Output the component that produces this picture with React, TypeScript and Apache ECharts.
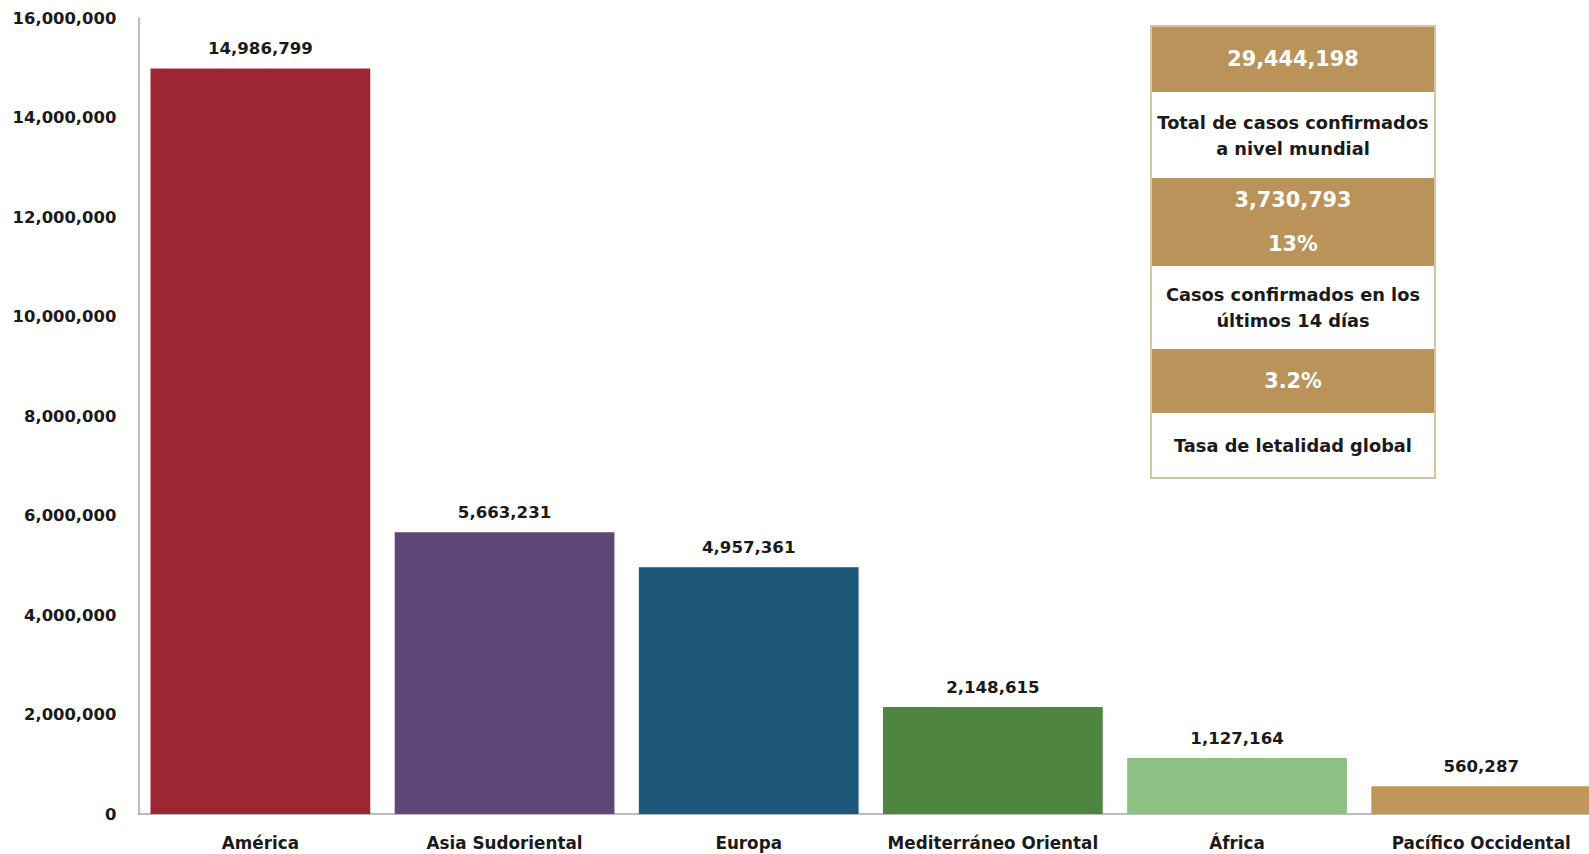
import React, { useEffect, useRef } from "react";
import * as echarts from "echarts";

const categories = ["América", "Asia Sudoriental", "Europa", "Mediterráneo Oriental", "África", "Pacífico Occidental"];
const values = [14986799, 5663231, 4957361, 2148615, 1127164, 560287];
const barColors = ["#9E2633", "#5F4777", "#1D577A", "#4E8541", "#8DC083", "#C0965A"];
const yMax = 16000000;
const yInterval = 2000000;

const boxBands = [
  { kind: "brown", lines: ["29,444,198"] },
  { kind: "white", lines: ["Total de casos confirmados", "a nivel mundial"] },
  { kind: "brown", lines: ["3,730,793", "13%"] },
  { kind: "white", lines: ["Casos confirmados en los", "últimos 14 días"] },
  { kind: "brown", lines: ["3.2%"] },
  { kind: "white", lines: ["Tasa de letalidad global"] },
];
const bandHeights = [66, 86, 88, 83, 64, 65];

const fmt = (v: number) => v.toLocaleString("en-US");

export default function App() {
  const ref = useRef<HTMLDivElement>(null);
  useEffect(() => {
    if (!ref.current) return;
    const chart = echarts.init(ref.current, null, { renderer: "svg" });
    const brown = "#BA935B";
    const boxX = 1151;
    const boxY = 26;
    const boxW = 284;
    const elements: any[] = [];
    let y = boxY;
    boxBands.forEach((b, i) => {
      const h = bandHeights[i];
      elements.push({
        type: "rect",
        shape: { x: boxX, y, width: boxW, height: h },
        style: { fill: b.kind === "brown" ? brown : "#ffffff" },
      });
      const isBrown = b.kind === "brown";
      const lh = isBrown ? 43.5 : 26;
      const n = b.lines.length;
      b.lines.forEach((t, j) => {
        elements.push({
          type: "text",
          x: boxX + boxW / 2,
          y: y + h / 2 + (j - (n - 1) / 2) * lh,
          style: {
            text: t,
            fill: isBrown ? "#ffffff" : "#1a1a1a",
            font: isBrown ? "bold 20.8px 'DejaVu Sans'" : "bold 17.8px 'DejaVu Sans'",
            align: "center",
            verticalAlign: "middle",
          },
        });
      });
      y += h;
    });
    elements.push({
      type: "rect",
      shape: { x: boxX, y: boxY, width: boxW, height: y - boxY },
      style: { fill: "none", stroke: "#D9C2A0", lineWidth: 2 },
    });

    chart.setOption({
      animation: false,
      grid: { left: 138.3, right: 6.7, top: 18, bottom: 40, containLabel: false, outerBoundsMode: "none" },
      xAxis: {
        type: "category",
        data: categories,
        axisLine: { lineStyle: { color: "#A6A6A6", width: 1.5 } },
        axisTick: { show: false },
        axisLabel: {
          interval: 0,
          margin: 20,
          color: "#1a1a1a",
          fontFamily: "DejaVu Sans",
          fontWeight: "bold",
          fontSize: 16.8,
        },
      },
      yAxis: {
        type: "value",
        min: 0,
        max: yMax,
        interval: yInterval,
        axisLine: { show: true, lineStyle: { color: "#A6A6A6", width: 1.5 } },
        axisTick: { show: false },
        splitLine: { show: false },
        axisLabel: {
          margin: 22,
          color: "#1a1a1a",
          fontFamily: "DejaVu Sans",
          fontWeight: "bold",
          fontSize: 16.4,
          formatter: (v: number) => fmt(v),
        },
      },
      series: [
        {
          type: "bar",
          barWidth: "90%",
          data: values.map((v, i) => ({ value: v, itemStyle: { color: barColors[i] } })),
          label: {
            show: true,
            position: "top",
            distance: 11,
            color: "#1a1a1a",
            fontFamily: "DejaVu Sans",
            fontWeight: "bold",
            fontSize: 16.6,
            formatter: (p: any) => fmt(p.value),
          },
        },
      ],
      graphic: elements,
    });
    return () => chart.dispose();
  }, []);
  return (
    <div style={{ position: "fixed", left: 0, top: 0, width: 1589, height: 854, overflow: "hidden", background: "#fff" }}>
      <div ref={ref} style={{ position: "absolute", left: 0, top: 0, width: 1610, height: 854 }} />
    </div>
  );
}
